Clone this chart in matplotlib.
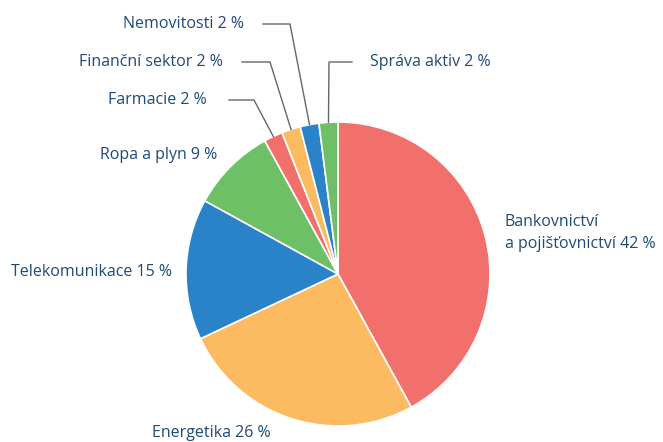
import matplotlib.pyplot as plt
import numpy as np

# data
sectors = ["Bankovnictví\na pojišťovnictví", "Energetika", "Telekomunikace", "Ropa a plyn",
           "Farmacie", "Finanční sektor", "Nemovitosti", "Správa aktiv"]
shares = [42, 26, 15, 9, 2, 2, 2, 2]
colors = ["#f2706b", "#fdbb61", "#2a83c9", "#6dc066",
          "#f2706b", "#fdbb61", "#2a83c9", "#6dc066"]

W, H = 663, 442
cx, cy, r = 338, H - 274, 152
text_col = "#1e4a78"

# label layout (pixel coords, y from top): x, y, ha, leader elbow, leader end
layout = {
    "Bankovnictví\na pojišťovnictví": (505, 233, "left", None, None),
    "Energetika": (211, 433, "center", None, None),
    "Telekomunikace": (172, 272, "right", None, None),
    "Ropa a plyn": (217, 155, "right", None, None),
    "Farmacie": (207, 100, "right", (254, 100), 229),
    "Finanční sektor": (223, 62, "right", (270, 62), 242),
    "Nemovitosti": (244, 24, "right", (290, 24), 263),
    "Správa aktiv": (370, 62, "left", (329, 62), 352),
}

plt.rcParams['font.family'] = ['Open Sans', 'DejaVu Sans']
fig = plt.figure(figsize=(W / 100, H / 100), dpi=100)
ax = fig.add_axes([0, 0, 1, 1])

wedges, _ = ax.pie(shares, colors=colors, startangle=90, counterclock=False,
                   center=(cx, cy), radius=r,
                   wedgeprops=dict(edgecolor="white", linewidth=1.2))
ax.set_xlim(0, W)
ax.set_ylim(0, H)
ax.set_aspect("equal")
ax.axis("off")

for w, name, val in zip(wedges, sectors, shares):
    x, y, ha, elbow, end = layout[name]
    ax.text(x, H - y, f"{name} {val} %", ha=ha, va="center", fontsize=11.5,
            color=text_col, linespacing=1.5)
    if elbow is not None:
        ang = np.deg2rad((w.theta1 + w.theta2) / 2)
        px, py = cx + r * np.cos(ang), cy + r * np.sin(ang)
        ax.plot([px, elbow[0], end], [py, H - elbow[1], H - elbow[1]],
                color="#666666", lw=1, solid_joinstyle="miter")

fig.savefig("out.png", dpi=100)
